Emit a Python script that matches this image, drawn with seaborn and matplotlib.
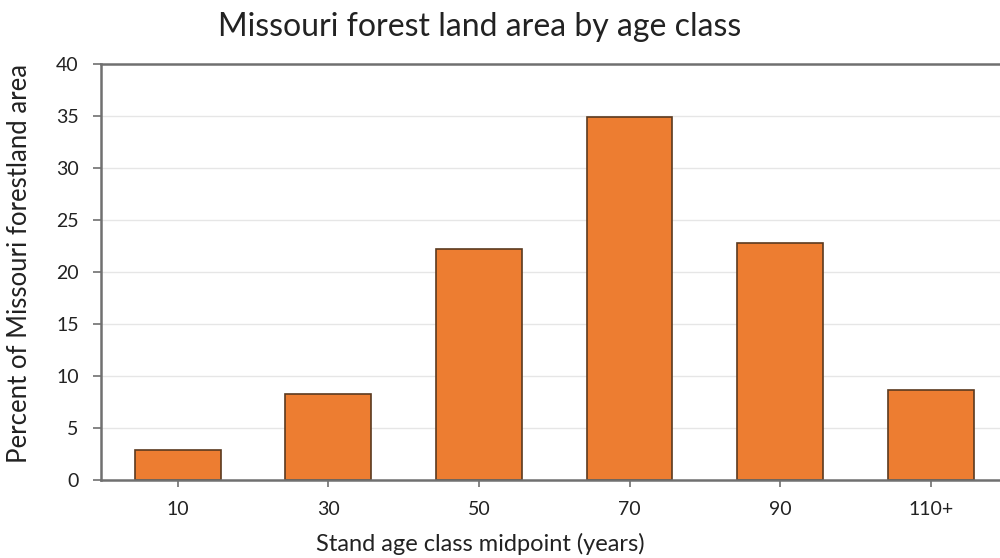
import matplotlib
matplotlib.use("Agg")
import matplotlib.pyplot as plt
import seaborn as sns
import pandas as pd

# Share of Missouri forestland by stand age class midpoint
age_classes = ["10", "30", "50", "70", "90", "110+"]
percent_area = [2.9, 8.3, 22.2, 34.9, 22.8, 8.65]
y_ticks = [0, 5, 10, 15, 20, 25, 30, 35, 40]

df = pd.DataFrame({"age": age_classes, "pct": percent_area})

sns.set_theme(style="white")
plt.rcParams["font.family"] = ["Lato", "DejaVu Sans"]

fig = plt.figure(figsize=(10, 5.58), dpi=100)
ax = fig.add_axes([0.101, 0.1398, 0.905, 0.746])

ax.yaxis.grid(True, color="#e6e6e6", linewidth=1.0)
ax.set_axisbelow(True)

sns.barplot(data=df, x="age", y="pct", order=age_classes, color="#ED7D31",
            saturation=1, width=0.57, edgecolor="#5b3a1f", linewidth=1.2, ax=ax)

ax.set_ylim(0, 40)
ax.set_xlim(-0.51, 5.5)
ax.set_yticks(y_ticks)
ax.set_yticklabels([str(t) for t in y_ticks], fontsize=14, color="#222222")
ax.set_xticks(range(len(age_classes)))
ax.set_xticklabels(age_classes, fontsize=14, color="#222222")

for side in ["left", "bottom", "top"]:
    ax.spines[side].set_color("#707070")
    ax.spines[side].set_linewidth(1.8)
ax.spines["right"].set_visible(False)

ax.tick_params(axis="y", which="major", left=True, length=6, width=1.2,
               color="#707070", pad=10)
ax.tick_params(axis="x", which="major", bottom=True, length=5, width=1.2,
               color="#707070", pad=10)

ax.set_xlabel("Stand age class midpoint (years)", fontsize=17, color="#222222")
ax.xaxis.set_label_coords(0.419, -0.127)
ax.set_ylabel("Percent of Missouri forestland area", fontsize=18.5, color="#222222")
ax.yaxis.set_label_coords(-0.076, 0.52)
fig.text(0.48, 0.952, "Missouri forest land area by age class", fontsize=23,
         ha="center", va="center", color="#222222")

fig.savefig("out.png", dpi=100)
